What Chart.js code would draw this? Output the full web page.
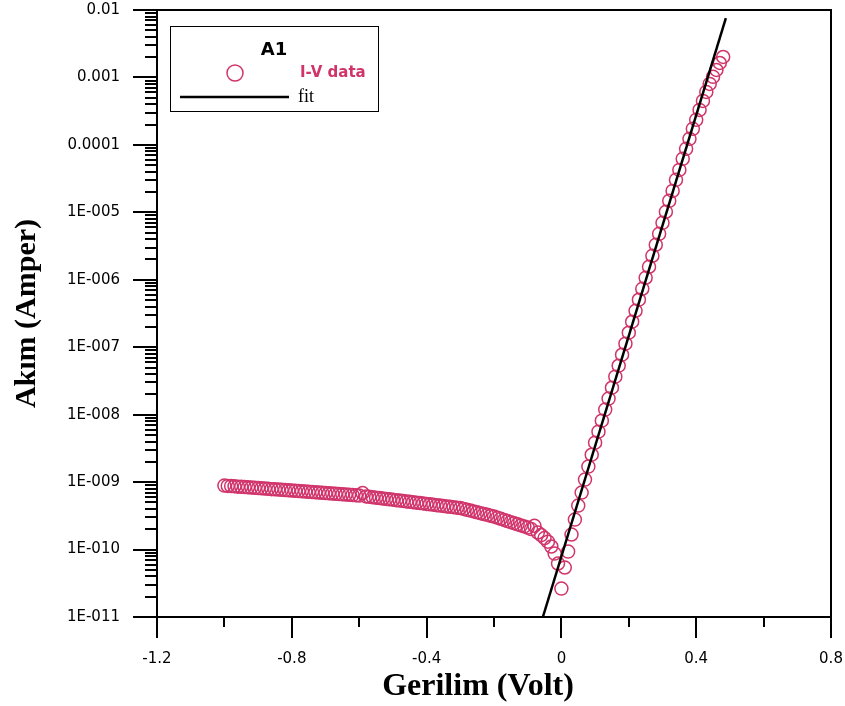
<!DOCTYPE html>
<html>
<head>
<meta charset="utf-8">
<script src="https://cdn.jsdelivr.net/npm/chart.js@4/dist/chart.umd.min.js"></script>
<style>
    body { margin: 0; background: #fff; }
    #wrap { width: 845px; height: 706px; }
</style>
</head>
<body>
<div id="wrap"><canvas id="myChart" width="845" height="706"></canvas></div>
<script>
// reverse bias branch (V, A)
const reverseVoltage = [
    -1.00, -0.99, -0.98, -0.97, -0.96, -0.95, -0.94, -0.93, -0.92, -0.91,
    -0.90, -0.89, -0.88, -0.87, -0.86, -0.85, -0.84, -0.83, -0.82, -0.81,
    -0.80, -0.79, -0.78, -0.77, -0.76, -0.75, -0.74, -0.73, -0.72, -0.71,
    -0.70, -0.69, -0.68, -0.67, -0.66, -0.65, -0.64, -0.63, -0.62, -0.61,
    -0.60, -0.59, -0.58, -0.57, -0.56, -0.55, -0.54, -0.53, -0.52, -0.51,
    -0.50, -0.49, -0.48, -0.47, -0.46, -0.45, -0.44, -0.43, -0.42, -0.41,
    -0.40, -0.39, -0.38, -0.37, -0.36, -0.35, -0.34, -0.33, -0.32, -0.31,
    -0.30, -0.29, -0.28, -0.27, -0.26, -0.25, -0.24, -0.23, -0.22, -0.21,
    -0.20, -0.19, -0.18, -0.17, -0.16, -0.15, -0.14, -0.13, -0.12, -0.11,
    -0.10, -0.09, -0.08, -0.07, -0.06, -0.05, -0.04, -0.03, -0.02, -0.01
];
const reverseCurrent = [
    8.87e-10, 8.79e-10, 8.72e-10, 8.65e-10, 8.57e-10, 8.50e-10, 8.43e-10, 8.36e-10, 8.29e-10, 8.22e-10,
    8.15e-10, 8.08e-10, 8.01e-10, 7.94e-10, 7.87e-10, 7.81e-10, 7.74e-10, 7.68e-10, 7.61e-10, 7.55e-10,
    7.48e-10, 7.42e-10, 7.36e-10, 7.29e-10, 7.23e-10, 7.17e-10, 7.11e-10, 7.05e-10, 6.99e-10, 6.93e-10,
    6.87e-10, 6.81e-10, 6.75e-10, 6.70e-10, 6.64e-10, 6.58e-10, 6.53e-10, 6.47e-10, 6.42e-10, 6.36e-10,
    6.31e-10, 6.87e-10, 6.13e-10, 6.05e-10, 5.96e-10, 5.88e-10, 5.80e-10, 5.71e-10, 5.63e-10, 5.55e-10,
    5.48e-10, 5.40e-10, 5.32e-10, 5.25e-10, 5.17e-10, 5.10e-10, 5.03e-10, 4.96e-10, 4.89e-10, 4.82e-10,
    4.75e-10, 4.68e-10, 4.62e-10, 4.55e-10, 4.49e-10, 4.43e-10, 4.36e-10, 4.30e-10, 4.24e-10, 4.18e-10,
    4.12e-10, 4.00e-10, 3.89e-10, 3.78e-10, 3.67e-10, 3.56e-10, 3.46e-10, 3.36e-10, 3.27e-10, 3.17e-10,
    3.08e-10, 2.97e-10, 2.86e-10, 2.75e-10, 2.65e-10, 2.55e-10, 2.46e-10, 2.37e-10, 2.28e-10, 2.20e-10,
    2.12e-10, 2.01e-10, 2.25e-10, 1.79e-10, 1.64e-10, 1.48e-10, 1.31e-10, 1.11e-10, 8.72e-11, 6.21e-11
];

// forward bias branch (V, A)
const forwardVoltage = [
    0.00, 0.01, 0.02, 0.03, 0.04, 0.05, 0.06, 0.07, 0.08, 0.09,
    0.10, 0.11, 0.12, 0.13, 0.14, 0.15, 0.16, 0.17, 0.18, 0.19,
    0.20, 0.21, 0.22, 0.23, 0.24, 0.25, 0.26, 0.27, 0.28, 0.29,
    0.30, 0.31, 0.32, 0.33, 0.34, 0.35, 0.36, 0.37, 0.38, 0.39,
    0.40, 0.41, 0.42, 0.43, 0.44, 0.45, 0.46, 0.47, 0.48
];
const forwardCurrent = [
    2.64e-11, 5.41e-11, 9.33e-11, 1.67e-10, 2.78e-10, 4.49e-10, 6.99e-10, 1.09e-9, 1.70e-9, 2.55e-9,
    3.85e-9, 5.60e-9, 8.15e-9, 1.19e-8, 1.73e-8, 2.51e-8, 3.66e-8, 5.32e-8, 7.74e-8, 1.13e-7,
    1.64e-7, 2.39e-7, 3.47e-7, 5.06e-7, 7.36e-7, 1.07e-6, 1.56e-6, 2.27e-6, 3.30e-6, 4.80e-6,
    6.99e-6, 1.02e-5, 1.48e-5, 2.08e-5, 3.03e-5, 4.26e-5, 6.21e-5, 8.73e-5, 1.23e-4, 1.73e-4,
    2.35e-4, 3.30e-4, 4.49e-4, 6.10e-4, 8.02e-4, 1.02e-3, 1.29e-3, 1.64e-3, 2.01e-3
];

// straight-line fit on the log scale, two end points
const fitVoltage = [-0.055, 0.488];
const fitCurrent = [1e-11, 7.6e-3];

const xTickValues = [-1.2, -0.8, -0.4, 0, 0.4, 0.8];
const xTickLabels = ["-1.2", "-0.8", "-0.4", "0", "0.4", "0.8"];
const yTickValues = [1e-11, 1e-10, 1e-9, 1e-8, 1e-7, 1e-6, 1e-5, 1e-4, 1e-3, 1e-2];
const yTickLabels = ["1E-011", "1E-010", "1E-009", "1E-008", "1E-007", "1E-006", "1E-005", "0.0001", "0.001", "0.01"];

const legendTitle = "A1";
const seriesNames = ["I-V data", "fit"];
const pink = "#d0346a";

function toPoints(xs, ys) {
    return xs.map((v, i) => ({ x: v, y: ys[i] }));
}

const frameAndLegend = {
    id: "frameAndLegend",
    afterDraw(chart) {
        const ctx = chart.ctx;
        const a = chart.chartArea;
        const xs = chart.scales.x;
        const ys = chart.scales.y;

        ctx.save();
        ctx.strokeStyle = "#000";
        ctx.lineWidth = 2;
        ctx.strokeRect(a.left, a.top, a.right - a.left, a.bottom - a.top);

        // ticks: major and minor, all outside
        ctx.beginPath();
        for (let i = 0; i <= 10; i++) {
            const px = Math.round(xs.getPixelForValue(-1.2 + i * 0.2));
            const len = i % 2 === 0 ? 21 : 10;
            ctx.moveTo(px, a.bottom);
            ctx.lineTo(px, a.bottom + len);
        }
        for (let e = -11; e <= -2; e++) {
            const py = Math.round(ys.getPixelForValue(Math.pow(10, e)));
            ctx.moveTo(a.left - 24, py);
            ctx.lineTo(a.left, py);
            if (e < -2) {
                for (let m = 2; m < 10; m++) {
                    const p = Math.round(ys.getPixelForValue(m * Math.pow(10, e)));
                    ctx.moveTo(a.left - 12, p);
                    ctx.lineTo(a.left, p);
                }
            }
        }
        ctx.stroke();

        // legend box
        const lx = a.left + 13;
        const ly = a.top + 16;
        ctx.lineWidth = 1;
        ctx.strokeRect(lx + 0.5, ly + 0.5, 208, 85);

        ctx.fillStyle = "#000";
        ctx.textBaseline = "middle";
        ctx.textAlign = "center";
        ctx.font = "bold 18px 'DejaVu Sans'";
        ctx.fillText(legendTitle, lx + 104, ly + 24);

        ctx.strokeStyle = pink;
        ctx.lineWidth = 1.5;
        ctx.beginPath();
        ctx.arc(lx + 65, ly + 47, 8, 0, Math.PI * 2);
        ctx.stroke();
        ctx.textAlign = "left";
        ctx.fillStyle = pink;
        ctx.font = "bold 15px 'DejaVu Sans'";
        ctx.fillText(seriesNames[0], lx + 130, ly + 47);

        ctx.strokeStyle = "#000";
        ctx.lineWidth = 2.5;
        ctx.beginPath();
        ctx.moveTo(lx + 10, ly + 71);
        ctx.lineTo(lx + 119, ly + 71);
        ctx.stroke();
        ctx.fillStyle = "#000";
        ctx.font = "18px 'Liberation Serif'";
        ctx.fillText(seriesNames[1], lx + 128, ly + 71);
        ctx.restore();
    }
};

// invisible tick marks only reserve room between axis and labels
const hiddenGrid = (len) => ({
    display: true,
    drawOnChartArea: false,
    drawTicks: true,
    tickLength: len,
    color: "rgba(0,0,0,0)"
});

function createChart() {
    const ctx = document.getElementById("myChart").getContext("2d");

    window.myChart = new Chart(ctx, {
        type: "scatter",
        data: {
            datasets: [{
                label: seriesNames[1],
                type: "line",
                data: toPoints(fitVoltage, fitCurrent),
                borderColor: "#000",
                borderWidth: 2.5,
                pointRadius: 0,
                fill: false,
                order: 0
            }, {
                label: seriesNames[0],
                data: toPoints(reverseVoltage.concat(forwardVoltage), reverseCurrent.concat(forwardCurrent)),
                pointStyle: "circle",
                pointRadius: 6.5,
                borderWidth: 1.5,
                borderColor: pink,
                backgroundColor: "rgba(0,0,0,0)",
                order: 1
            }]
        },
        options: {
            responsive: false,
            animation: false,
            layout: { padding: { top: 10, right: 14, bottom: 0, left: 0 } },
            plugins: {
                legend: { display: false },
                tooltip: { enabled: false }
            },
            scales: {
                x: {
                    type: "linear",
                    min: -1.2,
                    max: 0.8,
                    grid: hiddenGrid(33),
                    border: { display: false },
                    afterBuildTicks: (s) => { s.ticks = xTickValues.map(v => ({ value: v })); },
                    afterFit: (s) => { s.height = 89; },
                    ticks: {
                        color: "#000",
                        padding: 0,
                        maxRotation: 0,
                        font: { family: "'DejaVu Sans'", size: 15 },
                        callback: (v) => xTickLabels[xTickValues.findIndex(t => Math.abs(t - v) < 1e-9)]
                    },
                    title: {
                        display: true,
                        text: "Gerilim (Volt)    ",
                        color: "#000",
                        padding: { top: 0, bottom: 0 },
                        font: { family: "'Liberation Serif'", size: 32, weight: "bold" }
                    }
                },
                y: {
                    type: "logarithmic",
                    min: 1e-11,
                    max: 1e-2,
                    grid: hiddenGrid(37),
                    border: { display: false },
                    afterBuildTicks: (s) => { s.ticks = yTickValues.map(v => ({ value: v })); },
                    afterFit: (s) => { s.width = 157; },
                    ticks: {
                        color: "#000",
                        padding: 0,
                        font: { family: "'DejaVu Sans'", size: 15 },
                        callback: (v) => yTickLabels[yTickValues.findIndex(t => Math.abs(Math.log10(t) - Math.log10(v)) < 1e-6)]
                    },
                    title: {
                        display: true,
                        text: "Akım (Amper)",
                        color: "#000",
                        padding: { top: 9, bottom: 0 },
                        font: { family: "'Liberation Serif'", size: 30, weight: "bold" }
                    }
                }
            }
        },
        plugins: [frameAndLegend]
    });
}

createChart();
</script>
</body>
</html>
